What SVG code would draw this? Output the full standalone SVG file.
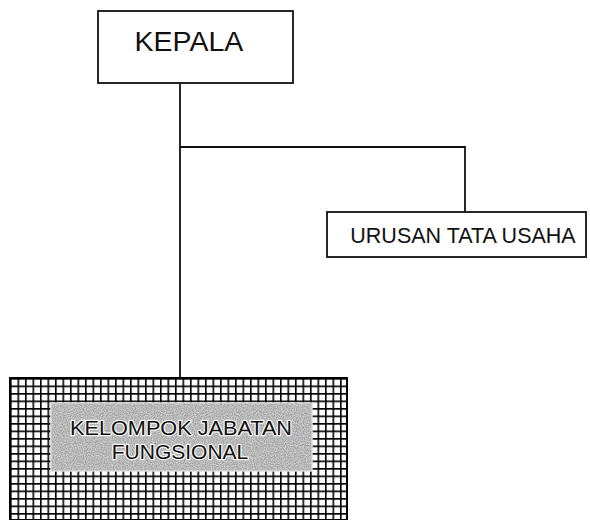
<svg xmlns="http://www.w3.org/2000/svg" width="590" height="520" viewBox="0 0 590 520">
<style>
.box{fill:#fff;stroke:#111;stroke-width:1.8}
.line{fill:none;stroke:#111;stroke-width:1.8}
.t{font-family:"Liberation Sans",Arial,sans-serif;fill:#111;text-anchor:middle}
.halo{font-family:"Liberation Sans",Arial,sans-serif;fill:#111;text-anchor:middle;stroke:#f4f4f4;stroke-width:2.5;paint-order:stroke;stroke-linejoin:round}
</style>
<defs>
<pattern id="grid" x="10" y="378" width="7.5" height="7.5" patternUnits="userSpaceOnUse">
<rect width="7.5" height="7.5" fill="#fff"/>
<path d="M0 0H7.5M0 0V7.5" stroke="#000" stroke-width="3.2" fill="none"/>
</pattern>
<filter id="noise" x="0" y="0" width="100%" height="100%">
<feTurbulence type="fractalNoise" baseFrequency="0.9" numOctaves="2" seed="3" result="n"/>
<feColorMatrix in="n" type="matrix" values="0 0 0 0 0.62  0 0 0 0 0.62  0 0 0 0 0.62  0 0 0 -2.2 1.6" result="c"/>
<feComposite in="c" in2="SourceGraphic" operator="in"/>
</filter>
</defs>
<g id="connectors">
<path class="line" d="M180 83V378"/>
<path class="line" d="M180 147H465V212"/>
</g>
<g id="kepala">
<rect class="box" x="98" y="11" width="195" height="72"/>
<text class="t" x="189" y="51" font-size="28.5">KEPALA</text>
</g>
<g id="urusan-tata-usaha">
<rect class="box" x="327" y="212" width="259" height="45"/>
<text class="t" x="463" y="243" font-size="21.5">URUSAN TATA USAHA</text>
</g>
<g id="kelompok-jabatan-fungsional">
<rect x="10" y="378" width="337" height="142" fill="url(#grid)" stroke="#000" stroke-width="2"/>
<rect x="51" y="403" width="261" height="68" fill="#a2a2a2" stroke="#ddd" stroke-width="1.5"/>
<rect x="51" y="403" width="261" height="68" fill="#a2a2a2" filter="url(#noise)"/>
<text class="halo" x="181" y="435" font-size="21" textLength="222" lengthAdjust="spacingAndGlyphs">KELOMPOK JABATAN</text>
<text class="halo" x="180" y="459" font-size="21">FUNGSIONAL</text>
</g>
</svg>
